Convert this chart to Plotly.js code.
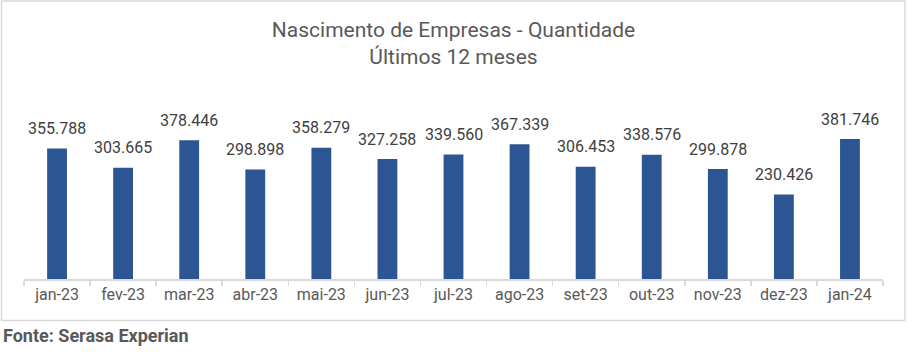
<!DOCTYPE html>
<html>
<head>
<meta charset="utf-8">
<script src="https://cdn.plot.ly/plotly-3.0.1.min.js"></script>
<style>html,body{margin:0;padding:0;background:#fff;}#chart{width:907px;height:352px;}</style>
</head>
<body>
<div id="chart"></div>
<script>
const months = ['jan-23','fev-23','mar-23','abr-23','mai-23','jun-23','jul-23','ago-23','set-23','out-23','nov-23','dez-23','jan-24'];
const births = [355788, 303665, 378446, 298898, 358279, 327258, 339560, 367339, 306453, 338576, 299878, 230426, 381746];
const chartTitle = 'Nascimento de Empresas - Quantidade<br>Últimos 12 meses';
const sourceNote = '<b>Fonte: Serasa Experian</b>';

const W = 907, H = 352;
const mL = 24, mR = 24, mT = 114, mB = 73;
const pw = W - mL - mR, ph = H - mT - mB;
const px = v => (v - mL) / pw;
const py = v => (H - mB - v) / ph;

const fmt = v => String(v).replace(/\B(?=(\d{3})+(?!\d))/g, '.');

const trace = {
  type: 'bar',
  x: months,
  y: births,
  marker: {color: '#2B5593'},
  hoverinfo: 'skip'
};

const labelAnns = months.map((m, i) => ({
  x: m, y: births[i], xref: 'x', yref: 'y',
  text: fmt(births[i]),
  showarrow: false, xanchor: 'center', yanchor: 'middle', yshift: 20,
  font: {family: 'Roboto, sans-serif', size: 16, color: '#404040'}
}));

const layout = {
  width: W, height: H,
  margin: {l: mL, r: mR, t: mT, b: mB, pad: 0},
  paper_bgcolor: '#ffffff',
  plot_bgcolor: '#ffffff',
  bargap: 0.7,
  showlegend: false,
  font: {family: 'Roboto, sans-serif', color: '#595959'},
  title: {
    text: chartTitle,
    x: 0.5, xanchor: 'center', xref: 'container',
    y: 1 - 37/H, yanchor: 'middle', yref: 'container',
    font: {family: 'Roboto, sans-serif', size: 21, color: '#595959'}
  },
  xaxis: {
    type: 'category',
    showline: true, linecolor: '#d9d9d9', linewidth: 1.5,
    ticks: 'outside', tickson: 'boundaries', ticklen: 5, tickcolor: '#d9d9d9', tickwidth: 1.5,
    showgrid: false, zeroline: false,
    tickfont: {family: 'Roboto, sans-serif', size: 16, color: '#595959'}
  },
  yaxis: {visible: false, range: [0, 450000], fixedrange: true},
  shapes: [{
    type: 'rect', xref: 'paper', yref: 'paper',
    x0: px(1.5), x1: px(905), y0: py(320.5), y1: py(1),
    line: {color: '#d9d9d9', width: 1.5}, fillcolor: 'rgba(0,0,0,0)', layer: 'below'
  }],
  annotations: labelAnns.concat([{
    text: sourceNote, xref: 'paper', yref: 'paper',
    x: px(1), xanchor: 'left', y: py(335), yanchor: 'middle',
    showarrow: false,
    font: {family: 'Roboto, sans-serif', size: 18, color: '#595959'}
  }])
};

Plotly.newPlot('chart', [trace], layout, {displayModeBar: false, staticPlot: true});
</script>
</body>
</html>
